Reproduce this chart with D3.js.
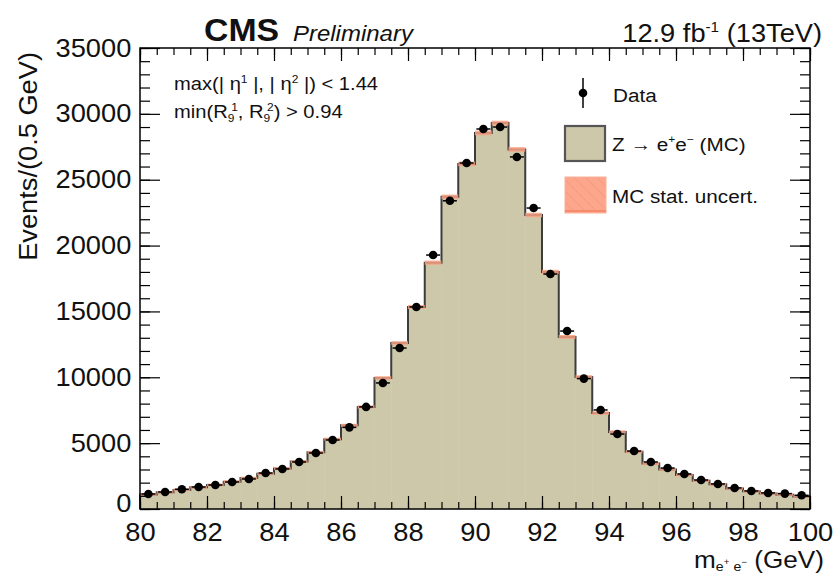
<!DOCTYPE html>
<html>
<head>
<meta charset="utf-8">
<script src="https://cdn.jsdelivr.net/npm/d3@7"></script>
<style>
  html, body { margin: 0; padding: 0; background: #ffffff; }
  svg { display: block; }
  text { font-family: "Liberation Sans", Arial, Helvetica, sans-serif; fill: #111; }
</style>
</head>
<body>
<svg id="chart" width="835" height="574"></svg>
<script>
// ---------------- data ----------------
const massBinCenters = [
  80.25, 80.75, 81.25, 81.75, 82.25, 82.75, 83.25, 83.75, 84.25, 84.75,
  85.25, 85.75, 86.25, 86.75, 87.25, 87.75, 88.25, 88.75, 89.25, 89.75,
  90.25, 90.75, 91.25, 91.75, 92.25, 92.75, 93.25, 93.75, 94.25, 94.75,
  95.25, 95.75, 96.25, 96.75, 97.25, 97.75, 98.25, 98.75, 99.25, 99.75
];
const dataEvents = [
  1140, 1290, 1500, 1670, 1820, 2050, 2280, 2730, 3040, 3570,
  4250, 5240, 6200, 7750, 9570, 12220, 15340, 19280, 23400, 26270,
  28850, 29000, 26730, 22850, 17840, 13510, 9900, 7520, 5690, 4400,
  3570, 3110, 2660, 2200, 1900, 1600, 1370, 1220, 1170, 1040
];
const mcEvents = [
  1100, 1270, 1450, 1650, 1830, 2070, 2350, 2680, 3080, 3600,
  4300, 5300, 6350, 7750, 9950, 12600, 15340, 18700, 23700, 26200,
  28550, 29300, 27300, 22320, 18000, 13060, 10020, 7280, 5850, 4350,
  3450, 3000, 2580, 2150, 1870, 1560, 1340, 1180, 1090, 950
];
const mcStatErr = [
  90, 90, 95, 95, 100, 100, 100, 105, 105, 110,
  110, 115, 120, 125, 130, 140, 150, 160, 170, 175,
  180, 180, 175, 170, 160, 150, 140, 130, 120, 115,
  110, 105, 100, 100, 95, 95, 90, 90, 90, 85
];
const binWidth = 0.5;
const xTickValues = [80, 82, 84, 86, 88, 90, 92, 94, 96, 98, 100];
const yTickValues = [0, 5000, 10000, 15000, 20000, 25000, 30000, 35000];
const xDomain = [80, 100];
const yDomain = [0, 35000];

// ---------------- layout ----------------
const plot = { left: 140, right: 810, top: 48, bottom: 509 };
const SX = 1.09; // horizontal stretch of the text seen in the reference
const FILL_MC = "#cdc8aa";
const BAND = "#f7a082";
const OUTLINE = "#3c3c3c";

const svg = d3.select("#chart");
const x = d3.scaleLinear().domain(xDomain).range([plot.left, plot.right]);
const y = d3.scaleLinear().domain(yDomain).range([plot.bottom, plot.top]);

const bins = massBinCenters.map((c, i) => ({
  c, x0: c - binWidth / 2, x1: c + binWidth / 2,
  data: dataEvents[i], mc: mcEvents[i], err: mcStatErr[i]
}));

// ---------------- MC histogram fill ----------------
svg.append("g").selectAll("rect").data(bins).join("rect")
  .attr("x", d => x(d.x0))
  .attr("width", d => x(d.x1) - x(d.x0) + 0.4)
  .attr("y", d => y(d.mc))
  .attr("height", d => y(0) - y(d.mc))
  .attr("fill", FILL_MC);

// ---------------- outline (steps) ----------------
const stepPts = [[xDomain[0], 0]];
bins.forEach(d => { stepPts.push([d.x0, d.mc]); stepPts.push([d.x1, d.mc]); });
stepPts.push([xDomain[1], 0]);
svg.append("path")
  .attr("d", d3.line().x(p => x(p[0])).y(p => y(p[1]))(stepPts))
  .attr("fill", "none")
  .attr("stroke", OUTLINE)
  .attr("stroke-width", 2);

// ---------------- MC stat. uncertainty band ----------------
svg.append("g").selectAll("rect").data(bins).join("rect")
  .attr("x", d => x(d.x0))
  .attr("width", d => x(d.x1) - x(d.x0))
  .attr("y", d => y(d.mc + d.err))
  .attr("height", d => y(d.mc - d.err) - y(d.mc + d.err))
  .attr("fill", BAND)
  .attr("opacity", 0.85);

// ---------------- data points ----------------
const pts = svg.append("g");
pts.selectAll("line.h").data(bins).join("line")
  .attr("class", "h")
  .attr("x1", d => x(d.c) - 7).attr("x2", d => x(d.c) + 7)
  .attr("y1", d => y(d.data)).attr("y2", d => y(d.data))
  .attr("stroke", "#000").attr("stroke-width", 1.5);
pts.selectAll("line.v").data(bins).join("line")
  .attr("class", "v")
  .attr("x1", d => x(d.c)).attr("x2", d => x(d.c))
  .attr("y1", d => y(d.data + Math.sqrt(d.data))).attr("y2", d => y(d.data - Math.sqrt(d.data)))
  .attr("stroke", "#000").attr("stroke-width", 1.5);
pts.selectAll("circle").data(bins).join("circle")
  .attr("cx", d => x(d.c)).attr("cy", d => y(d.data))
  .attr("r", 4.3).attr("fill", "#000");

// ---------------- axes / frame ----------------
const xMinor = d3.range(80, 100.001, 0.5);
const yMinor = d3.range(0, 35001, 1000);
const tickStroke = g => {
  g.select(".domain").remove();
  g.selectAll("line").attr("stroke", "#000").attr("stroke-width", 1.2);
};
// bottom
svg.append("g").attr("transform", `translate(0,${plot.bottom})`)
  .call(d3.axisBottom(x).tickValues(xMinor).tickSize(-7).tickFormat(""))
  .call(tickStroke);
const xb = svg.append("g").attr("transform", `translate(0,${plot.bottom})`)
  .call(d3.axisBottom(x).tickValues(xTickValues).tickSize(-13).tickPadding(14).tickFormat(d3.format("d")))
  .call(tickStroke);
// top
svg.append("g").attr("transform", `translate(0,${plot.top})`)
  .call(d3.axisTop(x).tickValues(xMinor).tickSize(-7).tickFormat(""))
  .call(tickStroke);
svg.append("g").attr("transform", `translate(0,${plot.top})`)
  .call(d3.axisTop(x).tickValues(xTickValues).tickSize(-13).tickFormat(""))
  .call(tickStroke);
// left
svg.append("g").attr("transform", `translate(${plot.left},0)`)
  .call(d3.axisLeft(y).tickValues(yMinor).tickSize(-10).tickFormat(""))
  .call(tickStroke);
const yl = svg.append("g").attr("transform", `translate(${plot.left},0)`)
  .call(d3.axisLeft(y).tickValues(yTickValues).tickSize(-20).tickPadding(8).tickFormat(d3.format("d")))
  .call(tickStroke);
// right
svg.append("g").attr("transform", `translate(${plot.right},0)`)
  .call(d3.axisRight(y).tickValues(yMinor).tickSize(-10).tickFormat(""))
  .call(tickStroke);
svg.append("g").attr("transform", `translate(${plot.right},0)`)
  .call(d3.axisRight(y).tickValues(yTickValues).tickSize(-20).tickFormat(""))
  .call(tickStroke);

[xb, yl].forEach(g => g.selectAll("text")
  .attr("font-size", 25)
  .attr("fill", "#111")
  .style("font-family", '"Liberation Sans", Arial, sans-serif')
  .attr("transform", `scale(${SX},1)`));
// the "0" label sits a little higher, as in the reference
yl.selectAll(".tick text").filter(d => d === 0).attr("dy", "0.1em");

svg.append("rect")
  .attr("x", plot.left).attr("y", plot.top)
  .attr("width", plot.right - plot.left).attr("height", plot.bottom - plot.top)
  .attr("fill", "none").attr("stroke", "#000").attr("stroke-width", 1.5);

// ---------------- text helper ----------------
function label(px, py, size, anchor, rot) {
  const g = svg.append("g").attr("transform",
    `translate(${px},${py})` + (rot ? ` rotate(${rot})` : "") + ` scale(${SX},1)`);
  return g.append("text").attr("font-size", size).attr("text-anchor", anchor || "start");
}

// header
label(204, 41, 31, "start").attr("font-weight", "bold").text("CMS");
label(293, 41, 22, "start").attr("font-style", "italic").text("Preliminary");
{
  const t = label(822, 42, 25, "end");
  t.append("tspan").text("12.9 fb");
  t.append("tspan").attr("font-size", 14).attr("dy", -10).text("-1");
  t.append("tspan").attr("dy", 10).text(" (13TeV)");
}

// axis titles
label(37, 52, 25, "end", -90).text("Events/(0.5 GeV)");
{
  const t = label(824, 568, 24, "end");
  t.append("tspan").text("m");
  t.append("tspan").attr("font-size", 13).attr("dy", 3).text("e");
  t.append("tspan").attr("font-size", 9).attr("dy", -6).text("+");
  t.append("tspan").attr("font-size", 13).attr("dy", 6).text(" e");
  t.append("tspan").attr("font-size", 9).attr("dy", -6).text("\u2212");
  t.append("tspan").attr("dy", 3).text(" (GeV)");
}

// selection annotations
{
  const t = label(174, 90, 18.5, "start");
  t.append("tspan").text("max(| \u03B7");
  t.append("tspan").attr("font-size", 11).attr("dy", -7).text("1");
  t.append("tspan").attr("dy", 7).text(" |, | \u03B7");
  t.append("tspan").attr("font-size", 11).attr("dy", -7).text("2");
  t.append("tspan").attr("dy", 7).text(" |) < 1.44");
}
{
  const t = label(174, 118, 18.5, "start");
  t.append("tspan").text("min(R");
  t.append("tspan").attr("font-size", 11).attr("dy", 4).text("9");
  t.append("tspan").attr("font-size", 11).attr("dx", -3).attr("dy", -11).text("1");
  t.append("tspan").attr("dy", 7).text(", R");
  t.append("tspan").attr("font-size", 11).attr("dy", 4).text("9");
  t.append("tspan").attr("font-size", 11).attr("dx", -3).attr("dy", -11).text("2");
  t.append("tspan").attr("dy", 7).text(") > 0.94");
}

// ---------------- legend ----------------
const defs = svg.append("defs");
const pat = defs.append("pattern").attr("id", "hatch").attr("patternUnits", "userSpaceOnUse")
  .attr("width", 8).attr("height", 8).attr("patternTransform", "rotate(-45)");
pat.append("rect").attr("width", 8).attr("height", 8).attr("fill", "#fca78c");
pat.append("line").attr("x1", 0).attr("y1", 0).attr("x2", 0).attr("y2", 8)
  .attr("stroke", "#f6967e").attr("stroke-width", 1.5);

const lg = svg.append("g");
lg.append("line").attr("x1", 583).attr("x2", 583).attr("y1", 78).attr("y2", 108)
  .attr("stroke", "#000").attr("stroke-width", 1.5);
lg.append("circle").attr("cx", 583).attr("cy", 93).attr("r", 4.3).attr("fill", "#000");
label(613, 102, 19, "start").text("Data");

lg.append("rect").attr("x", 565).attr("y", 126).attr("width", 40).attr("height", 35)
  .attr("fill", FILL_MC).attr("stroke", "#555").attr("stroke-width", 2.2);
{
  const t = label(612, 151, 19, "start");
  t.append("tspan").text("Z \u2192 e");
  t.append("tspan").attr("font-size", 11).attr("dy", -8).text("+");
  t.append("tspan").attr("dy", 8).text("e");
  t.append("tspan").attr("font-size", 11).attr("dy", -8).text("\u2212");
  t.append("tspan").attr("dy", 8).text(" (MC)");
}

lg.append("rect").attr("x", 565).attr("y", 177).attr("width", 41).attr("height", 36)
  .attr("fill", "url(#hatch)").attr("stroke", "#fbb09a").attr("stroke-width", 1);
lg.append("line").attr("x1", 565).attr("x2", 606).attr("y1", 211).attr("y2", 211)
  .attr("stroke", "#f58a6c").attr("stroke-width", 2);
label(612, 203, 19, "start").text("MC stat. uncert.");
</script>
</body>
</html>
